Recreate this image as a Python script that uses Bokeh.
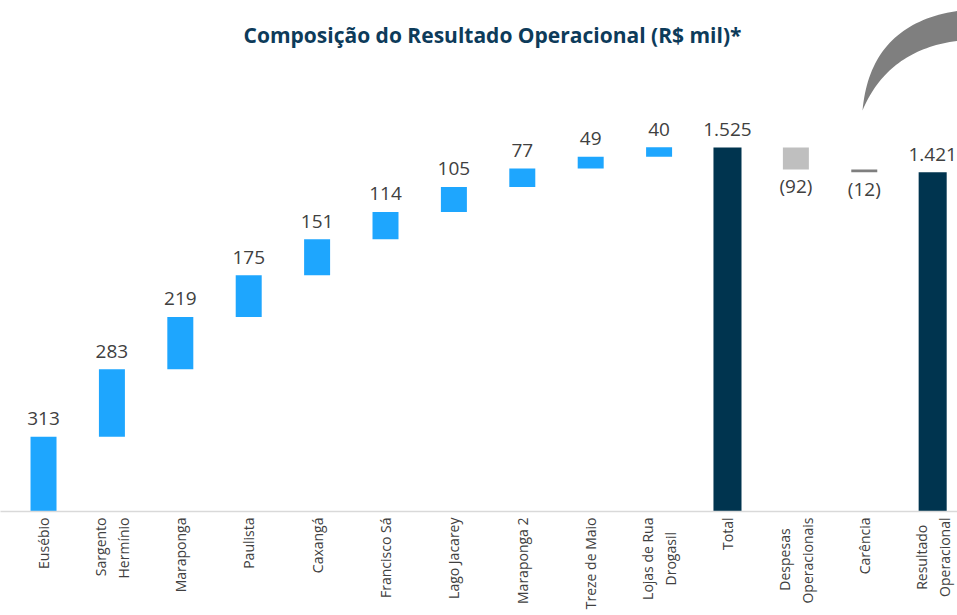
import numpy as np
from bokeh.plotting import figure
from bokeh.models import ColumnDataSource, Range1d, FixedTicker, Label
from bokeh.core.properties import value
from bokeh.embed import file_html
from bokeh.resources import INLINE

# ---- data ----
PAD = "\u00a0"
END = "\u200b"
categories = ["Eusébio", "Sargento\nHermínio", "Maraponga", "Paulista", "Caxangá",
              "Francisco Sá", "Lago Jacarey", "Maraponga 2", "Treze de Maio",
              "Lojas de Rua\nDrogasil" + PAD * 4 + END, "Total",
              "Despesas" + PAD * 3 + END + "\nOperacionais", "Carência",
              "Resultado" + PAD * 2 + END + "\nOperacional"]
values = [313, 283, 219, 175, 151, 114, 105, 77, 49, 40, 1525, -92, -12, 1421]
kinds = ["step"] * 10 + ["total", "step", "step", "total"]

BLUE = "#1EA6FE"
NAVY = "#00344F"
LGRAY = "#BFBFBF"
DGRAY = "#7F7F7F"

def fmt(v):
    s = f"{abs(v):,}".replace(",", ".")
    return f"({s})" if v < 0 else s

xs = list(range(len(categories)))
bottoms, tops, colors, widths, labels = [], [], [], [], []
running = 0
for i, (v, k) in enumerate(zip(values, kinds)):
    if k == "total":
        b, t = 0, v
        running = v
        colors.append(NAVY)
        widths.append(0.41)
    else:
        if v >= 0:
            b, t = running, running + v
            colors.append(BLUE)
        else:
            b, t = running + v, running
            colors.append(LGRAY if v < -50 else DGRAY)
        running = running + v
        widths.append(0.38)
    bottoms.append(b)
    tops.append(t)
    labels.append(fmt(v))

src = ColumnDataSource(dict(x=xs, bottom=bottoms, top=tops, color=colors, w=widths))
pos = [i for i, v in enumerate(values) if v >= 0]
neg = [i for i, v in enumerate(values) if v < 0]
src_pos = ColumnDataSource(dict(x=[xs[i] for i in pos], y=[tops[i] for i in pos],
                                t=[labels[i] for i in pos]))
src_neg = ColumnDataSource(dict(x=[xs[i] for i in neg], y=[bottoms[i] for i in neg],
                                t=[labels[i] for i in neg]))

W, H = 957, 615
BOTTOM = 104               # px below the axis
FH = H - BOTTOM            # frame height
X0, X1 = -0.629, 13.363
Y0, Y1 = 0, 2141

p = figure(width=W, height=H, output_backend="svg", toolbar_location=None,
           x_range=Range1d(X0, X1), y_range=Range1d(Y0, Y1),
           min_border_left=0, min_border_right=0, min_border_top=0,
           min_border_bottom=BOTTOM)
p.outline_line_color = None
p.background_fill_color = "white"
p.border_fill_color = "white"
p.xgrid.visible = False
p.ygrid.visible = False
p.yaxis.visible = False

p.vbar(x="x", bottom="bottom", top="top", width="w", fill_color="color",
       line_color=None, source=src)

p.text(x="x", y="y", text="t", source=src_pos, text_align="center",
       text_baseline="alphabetic", y_offset=-18, text_font=value("Open Sans"),
       text_font_size="19px", text_color="#404040")
p.text(x="x", y="y", text="t", source=src_neg, text_align="center",
       text_baseline="alphabetic", y_offset=17, text_font=value("Open Sans"),
       text_font_size="19px", text_color="#404040")

ax = p.xaxis[0]
ax.ticker = FixedTicker(ticks=xs)
ax.major_label_overrides = {i: c for i, c in enumerate(categories)}
ax.major_label_orientation = np.pi / 2
ax.major_tick_line_color = None
ax.major_tick_out = 0
ax.major_tick_in = 0
ax.minor_tick_line_color = None
ax.axis_line_color = "#D9D9D9"
ax.axis_line_width = 1.5
ax.major_label_standoff = 6
ax.major_label_text_font = "Open Sans"
ax.major_label_text_font_size = "14px"
ax.major_label_text_color = "#404040"

# title
p.add_layout(Label(x=492, y=FH - 34, x_units="screen", y_units="screen",
                   text="Composição do Resultado Operacional (R$ mil)*",
                   text_align="center", text_baseline="middle",
                   text_font="Open Sans", text_font_style="bold", text_font_size="21px",
                   text_color="#0D3B5A"))

# decorative crescent (top right), built in page-pixel space then mapped
def to_data(px, py):
    fx = np.asarray(px) / W * (X1 - X0) + X0
    fy = (FH - np.asarray(py)) / FH * (Y1 - Y0) + Y0
    return fx, fy

t = np.linspace(0, 1, 40)
def bez(p0, c, p2):
    bx = (1 - t) ** 2 * p0[0] + 2 * (1 - t) * t * c[0] + t ** 2 * p2[0]
    by = (1 - t) ** 2 * p0[1] + 2 * (1 - t) * t * c[1] + t ** 2 * p2[1]
    return bx, by
ox, oy = bez((862, 110), (870, 22), (960, 10))
ix, iy = bez((862, 110), (888, 48), (960, 40))
cx = np.concatenate([ox, ix[::-1]])
cy = np.concatenate([oy, iy[::-1]])
dx, dy = to_data(cx, cy)
p.patch(dx, dy, fill_color="#7F7F7F", line_color=None)

open("out.html", "w").write(file_html(p, INLINE))
